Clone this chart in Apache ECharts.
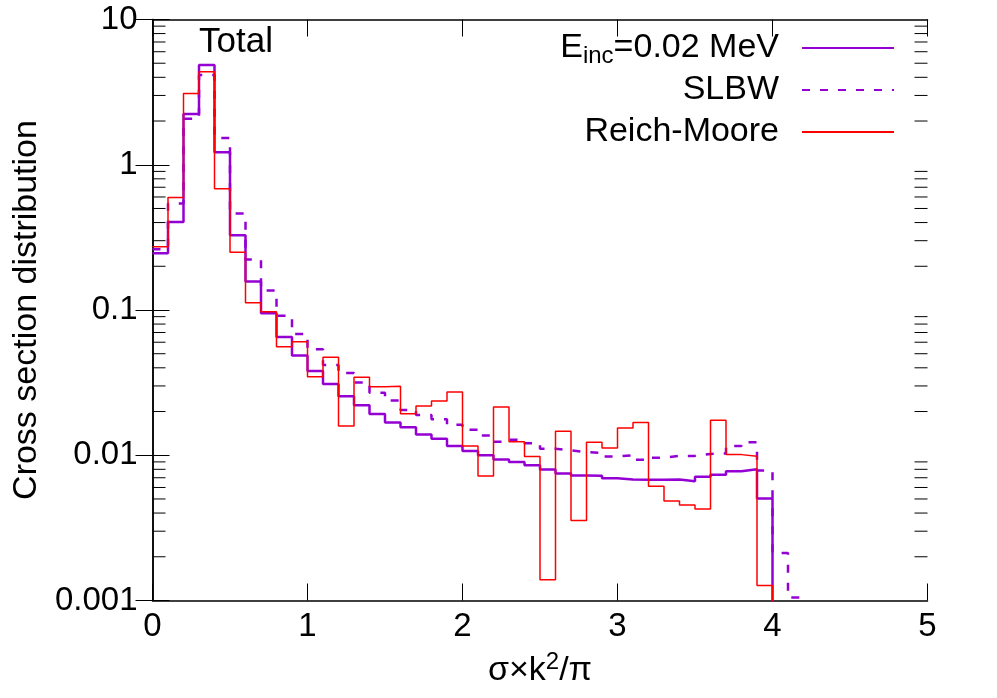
<!DOCTYPE html>
<html><head><meta charset="utf-8">
<script src="https://cdn.jsdelivr.net/npm/echarts@6/dist/echarts.min.js"></script>
<style>html,body{margin:0;padding:0;background:#fff}#c{width:997px;height:698px}</style>
</head><body><div id="c"></div>
<script>
// ---- data ----
const binStart = 0;
const binWidth = 0.1;
const eincValues = [0.246,0.403,2.24,4.87,1.22,0.327,0.157,0.095,0.0652,0.0487,
  0.0380,0.0309,0.0255,0.0221,0.0192,0.0168,0.0156,0.0139,0.0130,0.0116,
  0.0107,0.0100,0.00934,0.0090,0.00853,0.00797,0.0075,0.00725,0.00722,0.00695,
  0.00680,0.00677,0.00677,0.00680,0.00663,0.0071,0.00733,0.00776,0.0080,0.00503];
const slbwValues = [0.262,0.541,2.07,4.15,1.53,0.461,0.223,0.136,0.0914,0.0683,
  0.0536,0.0418,0.0368,0.0317,0.0269,0.0238,0.0205,0.0189,0.0177,0.0162,
  0.0150,0.0137,0.0124,0.0128,0.0121,0.0111,0.0108,0.0105,0.0104,0.0098,
  0.0100,0.0093,0.0096,0.0099,0.0099,0.0102,0.0103,0.0116,0.0123,0.00784,
  0.00212,0.00105];
const reichMooreValues = [0.273,0.596,3.09,4.36,0.683,0.25,0.112,0.0973,0.0558,0.0605,
  0.0347,0.0472,0.0159,0.0345,0.0296,0.0298,0.0193,0.0218,0.0236,0.0273,
  0.0116,0.0072,0.0215,0.0124,0.0098,0.00139,0.01465,0.00356,0.0123,0.0112,
  0.0154,0.0168,0.00611,0.00484,0.00454,0.00426,0.0174,0.0101,0.00985,0.00127];
const seriesNames = ['Einc', 'SLBW', 'Reich-Moore'];
const xTickValues = [0,1,2,3,4,5];
const yTickValues = [0.001,0.01,0.1,1,10];
const yTickLabels = ['0.001','0.01','0.1','1','10'];
const titleText = 'Total';
const yAxisTitle = 'Cross section distribution';

// ---- helpers ----
const FONT = 'Liberation Sans';
const FS = 34;
const TFS = 33;
const BELOW_AXIS = 1e-6; // drop line below the axis after the last bin (clipped)
function histSteps(vals) {
  const pts = [];
  vals.forEach((v, i) => {
    const x0 = +(binStart + i * binWidth).toFixed(6);
    const x1 = +(binStart + (i + 1) * binWidth).toFixed(6);
    pts.push([x0, v], [x1, v]);
  });
  pts.push([+(binStart + vals.length * binWidth).toFixed(6), BELOW_AXIS]);
  return pts;
}
const minorTicks = [];
for (let e = -3; e < 1; e++) for (let m = 2; m <= 9; m++) minorTicks.push([0, m * Math.pow(10, e)]);

const chart = echarts.init(document.getElementById('c'), null, {renderer: 'canvas'});
const axisLine = {show: true, lineStyle: {color: '#000', width: 1.5}};
const tickStyle = {show: true, inside: true, length: 17, lineStyle: {color: '#000', width: 1}};
function yLabel(v) {
  const i = yTickValues.findIndex(t => Math.abs(Math.log10(t) - Math.log10(v)) < 1e-6);
  return i >= 0 ? yTickLabels[i] : '';
}
function legendFor(name, top, fmt, rich) {
  return {
    data: [name], top: top, right: 102, orient: 'vertical', align: 'right',
    padding: 0, itemWidth: 92, itemHeight: 14, selectedMode: false,
    itemStyle: {opacity: 0, borderWidth: 0},
    formatter: fmt,
    textStyle: {fontFamily: FONT, fontSize: FS, color: '#000', rich: rich}
  };
}
const richBase = {
  a: {fontFamily: FONT, fontSize: FS, color: '#000'},
  b: {fontFamily: FONT, fontSize: 24, color: '#000', padding: [16, 0, 0, 0]},
  s: {width: 18}
};
const option = {
  animation: false,
  backgroundColor: '#fff',
  title: {text: titleText, left: 199, top: 25, padding: 0,
    textStyle: {fontFamily: FONT, fontSize: FS + 1, fontWeight: 'normal', color: '#000'}},
  legend: [
    legendFor(seriesNames[0], 31, () => '{a|E}{b|inc}{a|=0.02 MeV}{s| }', richBase),
    legendFor(seriesNames[1], 73, () => '{a|SLBW}{s| }', richBase),
    legendFor(seriesNames[2], 115, () => '{a|Reich-Moore}{s| }', richBase)
  ],
  grid: {left: 152.5, right: 69.5, top: 19.5, bottom: 97.5, containLabel: false},
  xAxis: [
    {type: 'value', min: xTickValues[0], max: xTickValues[xTickValues.length - 1], interval: 1,
      position: 'bottom', axisLine: axisLine, axisTick: tickStyle, splitLine: {show: false},
      axisLabel: {fontFamily: FONT, fontSize: TFS, color: '#000', margin: 10},
      name: '{a|σ×k}{p|2}{a|/π}', nameLocation: 'middle', nameGap: 50,
      nameTextStyle: {rich: {
        a: {fontFamily: FONT, fontSize: FS, color: '#000'},
        p: {fontFamily: FONT, fontSize: 24, color: '#000', padding: [0, 0, 16, 0]}
      }}},
    {type: 'value', min: xTickValues[0], max: xTickValues[xTickValues.length - 1], interval: 1,
      position: 'top', axisLine: axisLine, axisTick: tickStyle, splitLine: {show: false},
      axisLabel: {show: false}}
  ],
  yAxis: [
    {type: 'log', logBase: 10, min: yTickValues[0], max: yTickValues[yTickValues.length - 1],
      position: 'left', axisLine: axisLine, axisTick: tickStyle, splitLine: {show: false},
      axisLabel: {fontFamily: FONT, fontSize: TFS, color: '#000', margin: 15, formatter: yLabel},
      name: yAxisTitle, nameLocation: 'middle', nameGap: 98, nameRotate: 90,
      nameTextStyle: {fontFamily: FONT, fontSize: FS, color: '#000'}},
    {type: 'log', logBase: 10, min: yTickValues[0], max: yTickValues[yTickValues.length - 1],
      position: 'right', axisLine: axisLine, axisTick: tickStyle, splitLine: {show: false},
      axisLabel: {show: false}}
  ],
  series: [
    {name: seriesNames[0], type: 'line', data: histSteps(eincValues), symbol: 'none',
      clip: true, color: '#9400d3', lineStyle: {color: '#9400d3', width: 2.5}, z: 2},
    {name: seriesNames[1], type: 'line', data: histSteps(slbwValues), symbol: 'none',
      clip: true, color: '#9400d3', lineStyle: {color: '#9400d3', width: 2.5, type: [8, 10]}, z: 3},
    {name: seriesNames[2], type: 'line', data: histSteps(reichMooreValues), symbol: 'none',
      clip: true, color: '#ff0000', lineStyle: {color: '#ff0000', width: 1.5}, z: 4},
    {type: 'custom', data: minorTicks, silent: true, z: 1,
      renderItem: function (params, api) {
        const p = api.coord([0, api.value(1)]);
        const cs = params.coordSys;
        const L = 13;
        return {type: 'group', children: [
          {type: 'line', shape: {x1: cs.x, y1: p[1], x2: cs.x + L, y2: p[1]}, style: {stroke: '#000', lineWidth: 1}},
          {type: 'line', shape: {x1: cs.x + cs.width - L, y1: p[1], x2: cs.x + cs.width, y2: p[1]}, style: {stroke: '#000', lineWidth: 1}}
        ]};
      }}
  ]
};
chart.setOption(option);
</script>
</body></html>
